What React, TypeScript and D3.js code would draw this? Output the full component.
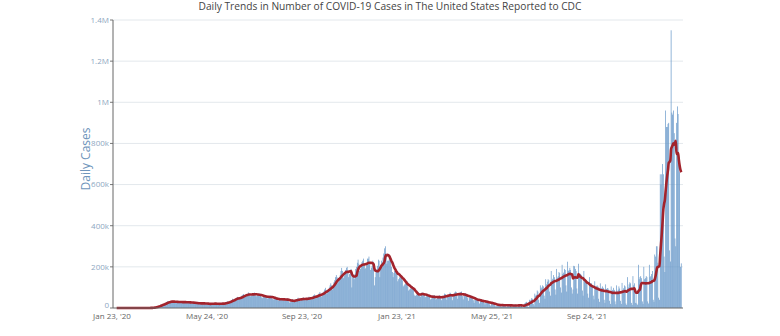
import React from 'react';
import * as d3 from 'd3';

// First reported day of the series
const startDate = '2020-01-23';

// Daily new cases (thousands), one row per week starting Thursday
const dailyCasesK: number[] = [
  0,0,0,0,0,0,0,
  0,0,0,0,0,0,0,
  0,0,0,0,0,0,0,
  0,0,0,0,0,0,0,
  0,0,0,0,0,0,0,
  0,0,0,0,0,0,0.1,
  0.1,0.1,0.1,0.2,0.3,0.4,0.5,
  0.7,1,1.2,1.3,1.6,2.8,3.6,
  5,6.8,8.5,9.2,10.8,10.5,12.5,
  17,18.5,19.5,19,20,22.5,25,
  29,32,33,28,27,30,31,
  35,34,32,27,26,28,30,
  32,32,30,27,25,27,29,
  30,33,30,26,24,25,28,
  30,31,28,25,22,24,26,
  28,27,26,21,19,21,22,
  27,25,24,20,19,20,22,
  26,24,22,19,17,19,19,
  22,24,24,20,17,21,20,
  22,24,22,18,17,19,21,
  23,25,25,18,19,22,26,
  27,32,32,26,27,33,36,
  39,45,42,38,40,47,50,
  54,52,46,42,46,58,61,
  64,68,61,58,59,66,67,
  76,72,62,57,60,68,71,
  73,75,65,56,58,62,68,
  69,70,61,52,48,55,59,
  60,62,55,47,46,53,55,
  58,62,52,44,40,46,46,
  49,50,44,38,36,39,43,
  47,49,44,36,34,39,41,
  44,48,42,33,27,28,36,
  40,43,38,30,33,38,39,
  46,50,44,36,36,43,45,
  48,52,45,38,38,45,46,
  52,55,50,42,42,50,55,
  62,66,60,48,50,60,68,
  72,78,68,55,62,74,80,
  90,98,88,68,80,92,100,
  110,120,110,90,100,125,135,
  150,160,150,120,130,145,160,
  180,195,180,145,155,170,185,
  195,200,180,150,165,175,190,
  100,150,150,140,165,190,200,
  220,235,215,180,190,200,223,
  230,240,215,190,195,210,240,
  240,250,215,185,195,205,230,
  200,110,150,175,185,205,235,
  230,150,200,230,210,245,265,
  290,300,265,215,230,230,240,
  235,240,200,175,150,170,180,
  190,185,165,130,140,148,155,
  160,160,135,105,110,115,120,
  125,130,105,85,90,95,95,
  105,105,90,65,58,60,65,
  70,78,72,58,55,66,74,
  75,72,65,52,55,58,62,
  65,64,55,42,45,55,58,
  62,62,52,40,45,52,58,
  60,62,50,38,50,55,60,
  70,68,60,40,60,60,68,
  75,72,58,38,62,65,75,
  80,78,62,45,65,68,75,
  78,80,58,42,62,62,72,
  68,65,48,35,52,55,60,
  58,54,38,25,42,42,48,
  46,44,30,22,35,35,38,
  40,38,25,17,30,30,33,
  32,30,18,12,25,24,26,
  25,22,11,7,9,18,20,
  19,17,8,5,16,14,17,
  18,16,7,4,17,15,16,
  16,14,6,4,16,14,15,
  17,15,6,4,17,15,18,
  17,12,4,2,8,22,26,
  30,28,8,5,40,35,40,
  48,45,20,12,70,60,64,
  85,80,40,25,110,95,100,
  110,105,60,45,140,115,128,
  140,135,80,60,180,135,142,
  160,150,90,65,190,148,155,
  175,170,100,75,210,165,172,
  190,185,110,80,225,180,185,
  195,185,100,70,90,205,203,
  190,180,95,70,215,160,167,
  165,160,85,60,180,138,142,
  135,130,70,50,150,115,120,
  120,112,60,42,130,100,106,
  110,105,45,30,120,92,98,
  105,98,40,25,115,92,97,
  95,88,35,20,105,83,88,
  98,88,32,18,110,80,89,
  105,95,35,20,122,88,96,
  110,105,22,15,150,100,115,
  125,120,25,15,155,110,120,
  25,70,22,16,210,140,150,
  155,145,32,20,200,140,145,
  155,150,32,22,210,150,155,
  165,180,40,30,260,250,300,
  300,220,50,40,650,600,650,
  700,650,250,175,960,880,880,
  895,900,280,226,1350,950,940,
  960,850,338,300,900,980,943,
  720,660,200,217,
];

const yTickValues = [0, 200000, 400000, 600000, 800000, 1000000, 1200000, 1400000];
const yTickLabels = ['0', '200k', '400k', '600k', '800k', '1M', '1.2M', '1.4M'];
const xTickDates = ['2020-01-23', '2020-05-24', '2020-09-23', '2021-01-23', '2021-05-25', '2021-09-24'];
const xTickLabels = ["Jan 23, '20", "May 24, '20", "Sep 23, '20", "Jan 23, '21", "May 25, '21", "Sep 24, '21"];

const title = 'Daily Trends in Number of COVID-19 Cases in The United States Reported to CDC';
const yTitle = 'Daily Cases';

export default function App() {
  const W = 780, H = 336;
  const left = 113, right = 683, top = 20, bottom = 308;
  const font = "'Open Sans', 'Noto Sans', sans-serif";
  const parse = d3.utcParse('%Y-%m-%d');
  const start = parse(startDate) as Date;
  const days = dailyCasesK.map((v, i) => ({ date: d3.utcDay.offset(start, i), value: v * 1000 }));
  const x = d3.scaleUtc().domain([start, d3.utcDay.offset(start, 732)]).range([112, 682]);
  const y = d3.scaleLinear().domain([0, 1400000]).range([bottom, top]);
  const dayW = x(d3.utcDay.offset(start, 1)) - x(start);
  const bw = dayW * 0.85;
  const avg = days
    .map((d, i) => (i < 6 ? null : { date: d.date, value: d3.mean(days.slice(i - 6, i + 1), (e) => e.value) as number }))
    .filter((d) => d !== null) as { date: Date; value: number }[];
  const line = d3
    .line<{ date: Date; value: number }>()
    .x((d) => x(d.date))
    .y((d) => y(d.value))
    .curve(d3.curveMonotoneX);

  return (
    <svg width={W} height={H} style={{ position: 'absolute', left: 0, top: 0, background: '#fff' }} fontFamily={font}>
      <text x={390} y={10} textAnchor="middle" fontSize={10.2} fill="#444">{title}</text>
      {yTickValues.map((v, i) => (
        <g key={v}>
          {v > 0 && <line x1={left} x2={right} y1={y(v)} y2={y(v)} stroke="#e3e8ec" strokeWidth={1} />}
          <line x1={left - 3} x2={left} y1={y(v)} y2={y(v)} stroke="#777" strokeWidth={1} />
          <text x={left - 4} y={v === 0 ? y(v) - 2.8 : y(v)} dy="0.35em" textAnchor="end" fontSize={8} fill="#8ea7bf">{yTickLabels[i]}</text>
        </g>
      ))}
      <g>
        {days.map((d, i) =>
          d.value > 0 ? (
            <rect key={i} x={x(d.date) - bw / 2} y={y(d.value)} width={bw} height={bottom - y(d.value)} fill="#5e92c6" />
          ) : null
        )}
      </g>
      <path d={line(avg) || ''} fill="none" stroke="#a2232c" strokeWidth={2.6} strokeLinejoin="round" />
      <line x1={left} x2={left} y1={top} y2={bottom} stroke="#666" strokeWidth={1} />
      <line x1={left} x2={right} y1={bottom} y2={bottom} stroke="#666" strokeWidth={1} />
      {xTickDates.map((s, i) => {
        const d = parse(s) as Date;
        return (
          <text key={s} x={x(d)} y={319.2} textAnchor="middle" fontSize={8} fill="#666">{xTickLabels[i]}</text>
        );
      })}
      <text transform={`translate(90,159) rotate(-90)`} textAnchor="middle" fontSize={12} fill="#6f95bb">{yTitle}</text>
    </svg>
  );
}
